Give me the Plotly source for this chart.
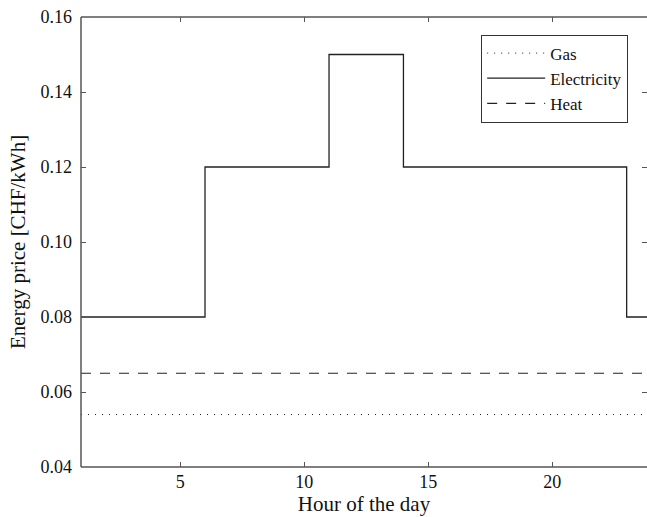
import plotly.graph_objects as go

# Data
elec_hours = [1, 6, 11, 14, 23, 24]
elec_price = [0.08, 0.12, 0.15, 0.12, 0.08, 0.08]
gas_hours = [1, 24]
gas_price = [0.054, 0.054]
heat_hours = [1, 24]
heat_price = [0.065, 0.065]
x_ticks = [5, 10, 15, 20]
y_ticks = [0.04, 0.06, 0.08, 0.10, 0.12, 0.14, 0.16]

FONT = "Liberation Serif"
LC = "#222222"

fig = go.Figure()
fig.add_trace(go.Scatter(x=gas_hours, y=gas_price, mode="lines", name="Gas",
                         line=dict(color=LC, width=1, dash="1px,6px")))
fig.add_trace(go.Scatter(x=elec_hours, y=elec_price, mode="lines", name="Electricity",
                         line=dict(color=LC, width=1.3, shape="hv")))
fig.add_trace(go.Scatter(x=heat_hours, y=heat_price, mode="lines", name="Heat",
                         line=dict(color=LC, width=1.2, dash="10px,9px")))

# frame lines left, top, bottom (right spine falls outside the picture)
for (x0, y0, x1, y1) in [(0, 0, 0, 1), (0, 1, 1, 1), (0, 0, 1, 0)]:
    fig.add_shape(type="line", xref="paper", yref="paper", x0=x0, y0=y0, x1=x1, y1=y1,
                  line=dict(color="#555555", width=1.5), layer="above")

fig.update_layout(
    width=647, height=517,
    margin=dict(l=81, r=0, t=17, b=50, autoexpand=False),
    paper_bgcolor="white", plot_bgcolor="white",
    font=dict(family=FONT, size=18, color="#111111"),
    showlegend=True,
    legend=dict(x=0.707, y=0.961, xanchor="left", yanchor="top",
                bordercolor="#333333", borderwidth=1, bgcolor="white", itemwidth=58,
                font=dict(family=FONT, size=17, color="#111111"), tracegroupgap=0),
)
fig.update_xaxes(range=[1, 23.82], tickvals=x_ticks, ticks="inside", ticklen=5,
                 tickcolor="#555555", mirror="ticks", showline=False, showgrid=False,
                 zeroline=False, automargin=False, ticklabelstandoff=2,
                 tickfont=dict(family=FONT, size=18),
                 title=dict(text="Hour of the day", font=dict(family=FONT, size=21), standoff=3))
fig.update_yaxes(range=[0.04, 0.16], tickvals=y_ticks, tickformat=".2f", ticks="inside",
                 ticklen=5, tickcolor="#555555", mirror="ticks", showline=False,
                 showgrid=False, zeroline=False, automargin=False, ticklabelstandoff=8,
                 tickfont=dict(family=FONT, size=18),
                 title=dict(text="Energy price [CHF/kWh]", font=dict(family=FONT, size=21), standoff=9))

fig.write_html(
    "out.html",
    config={"responsive": False, "displayModeBar": False},
    post_script="document.body.style.margin='0';document.documentElement.style.overflow='hidden';",
)
